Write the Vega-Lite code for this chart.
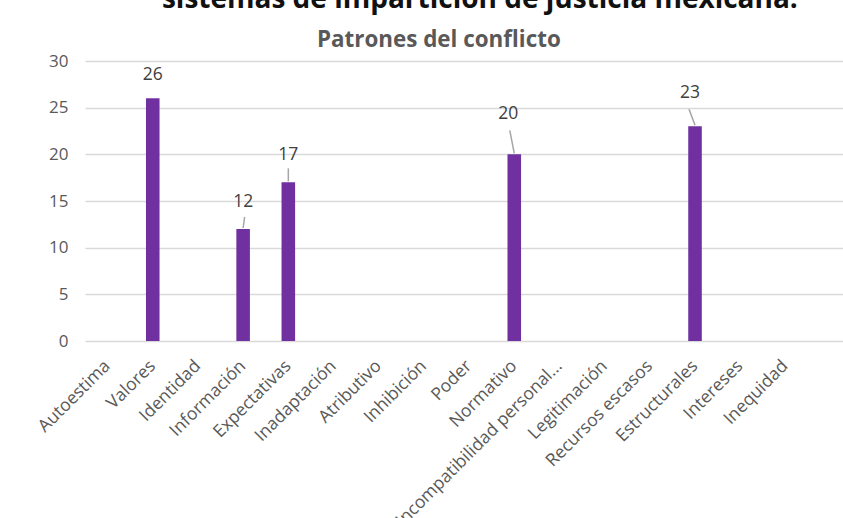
{
  "$schema": "https://vega.github.io/schema/vega-lite/v6.json",
  "autosize": {"type": "none"},
  "padding": {"left": 85, "top": 61, "right": 758, "bottom": 457},
  "background": "white",
  "title": {
    "text": "sistemas de impartición de justicia mexicana.",
    "anchor": "middle",
    "frame": "bounds",
    "font": "Open Sans",
    "fontSize": 28,
    "fontWeight": "bold",
    "color": "#111111",
    "dx": 41,
    "offset": 15
  },
  "config": {
    "view": {"stroke": null},
    "font": "Open Sans"
  },
  "vconcat": [
    {
      "width": 758,
      "height": 280,
      "title": {
        "text": "Patrones del conflicto",
        "anchor": "middle",
        "frame": "bounds",
        "font": "Open Sans",
        "fontSize": 22.4,
        "fontWeight": "bold",
        "color": "#595959",
        "offset": 1
      },
      "data": {
        "values": [
          {"patron": "Autoestima", "valor": 0},
          {"patron": "Valores", "valor": 26},
          {"patron": "Identidad", "valor": 0},
          {"patron": "Información", "valor": 12},
          {"patron": "Expectativas", "valor": 17},
          {"patron": "Inadaptación", "valor": 0},
          {"patron": "Atributivo", "valor": 0},
          {"patron": "Inhibición", "valor": 0},
          {"patron": "Poder", "valor": 0},
          {"patron": "Normativo", "valor": 20},
          {"patron": "Incompatibilidad personal...", "valor": 0},
          {"patron": "Legitimación", "valor": 0},
          {"patron": "Recursos escasos", "valor": 0},
          {"patron": "Estructurales", "valor": 23},
          {"patron": "Intereses", "valor": 0},
          {"patron": "Inequidad", "valor": 0}
        ]
      },
      "encoding": {
        "x": {
          "field": "patron",
          "type": "nominal",
          "sort": null,
          "scale": {"paddingInner": 0.7, "paddingOuter": 0.737, "align": 0.237},
          "axis": {
            "title": null,
            "domain": false,
            "ticks": false,
            "labelAngle": -45,
            "labelAlign": "right",
            "labelBaseline": "middle",
            "labelPadding": 22,
            "labelFont": "Open Sans",
            "labelFontSize": 17.5,
            "labelColor": "#595959",
            "labelLimit": 400
          }
        },
        "y": {
          "field": "valor",
          "type": "quantitative",
          "scale": {"domain": [0, 30]},
          "axis": {
            "title": null,
            "values": [0, 5, 10, 15, 20, 25, 30],
            "domain": false,
            "ticks": false,
            "gridColor": "#D9D9D9",
            "gridWidth": 1.5,
            "labelPadding": 17,
            "labelFont": "Open Sans",
            "labelFontSize": 17,
            "labelColor": "#595959"
          }
        }
      },
      "layer": [
        {"mark": {"type": "bar", "color": "#7030A0"}},
        {
          "transform": [{"filter": "datum.patron === 'Valores'"}],
          "mark": {"type": "text", "fontSize": 17.5, "color": "#404040", "baseline": "middle", "dy": -23},
          "encoding": {"text": {"field": "valor"}}
        },
        {
          "transform": [{"filter": "datum.patron === 'Información' || datum.patron === 'Expectativas'"}],
          "mark": {"type": "text", "fontSize": 17.5, "color": "#404040", "baseline": "middle", "dy": -27.5},
          "encoding": {"text": {"field": "valor"}}
        },
        {
          "transform": [{"filter": "datum.patron === 'Normativo'"}],
          "mark": {"type": "text", "fontSize": 17.5, "color": "#404040", "baseline": "middle", "dx": -6, "dy": -40},
          "encoding": {"text": {"field": "valor"}}
        },
        {
          "transform": [{"filter": "datum.patron === 'Estructurales'"}],
          "mark": {"type": "text", "fontSize": 17.5, "color": "#404040", "baseline": "middle", "dx": -5, "dy": -33},
          "encoding": {"text": {"field": "valor"}}
        },
        {
          "transform": [{"filter": "datum.patron === 'Información'"}],
          "mark": {"type": "rule", "color": "#A6A6A6", "strokeWidth": 1.5, "yOffset": -1, "y2Offset": -12, "x2Offset": 1.5},
          "encoding": {
            "x": {"field": "patron", "type": "nominal", "sort": null, "bandPosition": 0.5},
            "x2": {"field": "patron", "bandPosition": 0.5},
            "y2": {"field": "valor"}
          }
        },
        {
          "transform": [{"filter": "datum.patron === 'Expectativas'"}],
          "mark": {"type": "rule", "color": "#A6A6A6", "strokeWidth": 1.5, "yOffset": -1, "y2Offset": -14},
          "encoding": {
            "x": {"field": "patron", "type": "nominal", "sort": null, "bandPosition": 0.5},
            "x2": {"field": "patron", "bandPosition": 0.5},
            "y2": {"field": "valor"}
          }
        },
        {
          "transform": [{"filter": "datum.patron === 'Normativo'"}],
          "mark": {"type": "rule", "color": "#A6A6A6", "strokeWidth": 1.5, "yOffset": -1, "y2Offset": -24, "x2Offset": -4.5},
          "encoding": {
            "x": {"field": "patron", "type": "nominal", "sort": null, "bandPosition": 0.5},
            "x2": {"field": "patron", "bandPosition": 0.5},
            "y2": {"field": "valor"}
          }
        },
        {
          "transform": [{"filter": "datum.patron === 'Estructurales'"}],
          "mark": {"type": "rule", "color": "#A6A6A6", "strokeWidth": 1.5, "yOffset": -1, "y2Offset": -17, "x2Offset": -6},
          "encoding": {
            "x": {"field": "patron", "type": "nominal", "sort": null, "bandPosition": 0.5},
            "x2": {"field": "patron", "bandPosition": 0.5},
            "y2": {"field": "valor"}
          }
        }
      ]
    }
  ]
}
